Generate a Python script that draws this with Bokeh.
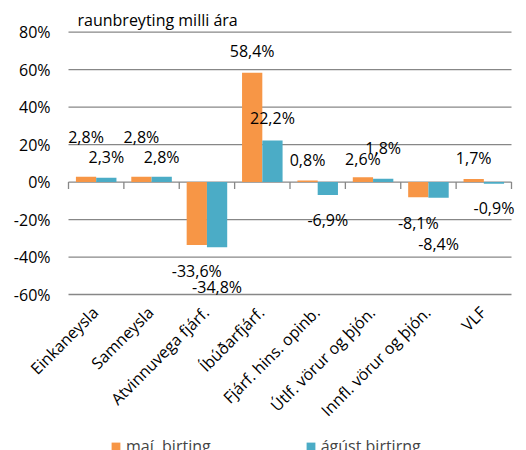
import math
from bokeh.plotting import figure
from bokeh.models import ColumnDataSource, Range1d, Legend, LegendItem
from bokeh.core.properties import value
from bokeh.embed import file_html
from bokeh.resources import INLINE

# ---- data ----
categories = ["Einkaneysla", "Samneysla", "Atvinnuvega fjárf.", "Íbúðarfjárf.",
              "Fjárf. hins. opinb.", "Útlf. vörur og þjón.", "Innfl. vörur og þjón.", "VLF"]
mai = [2.8, 2.8, -33.6, 58.4, 0.8, 2.6, -8.1, 1.7]
agust = [2.3, 2.8, -34.8, 22.2, -6.9, 1.8, -8.4, -0.9]
series_names = ["maí  birting", "ágúst birtirng"]
y_ticks = [-60, -40, -20, 0, 20, 40, 60, 80]
axis_note = "raunbreyting milli ára"

# ---- label placement (screen px, positive = up) ----
mai_label_dy = [40, 40, -26, 22, 21, 18, -26, 21]
agust_label_dy = [21, 20, -40, 22, -25, 31, -46, -24]

FONT = "Open Sans"
FS = "16px"
ORANGE = "#F79646"
CYAN = "#4BACC6"
GRID = "#878787"
Y_MIN, Y_MAX = y_ticks[0], y_ticks[-1]
N = len(categories)


def fmt(v):
    return f"{v:.1f}".replace(".", ",") + "%"


# category slots: category i occupies [i, i+1]
xc = [i + 0.5 for i in range(N)]
OFF = 0.183
W = 0.366

src = ColumnDataSource(dict(
    cat=categories, xc=xc,
    xm=[x - OFF for x in xc], xa=[x + OFF for x in xc],
    mai=mai, agust=agust,
    mai_lbl=[fmt(v) for v in mai], agust_lbl=[fmt(v) for v in agust],
    mai_dy=[-d for d in mai_label_dy], agust_dy=[-d for d in agust_label_dy],
    base=[Y_MIN] * N,
))
tick_src = ColumnDataSource(dict(
    y=y_ticks, x0=[0] * len(y_ticks), x1=[N] * len(y_ticks),
    lbl=[f"{t}%" for t in y_ticks],
))
bound_src = ColumnDataSource(dict(x=list(range(N + 1)), y=[0] * (N + 1)))

# one full-canvas frame: category area spans page x 68..511, 80% at y~32, -60% at y~294
PX_PER_CAT = 443 / N
PX_PER_PCT = 262.3 / (Y_MAX - Y_MIN)
p = figure(x_range=Range1d(-68 / PX_PER_CAT, N + 15 / PX_PER_CAT),
           y_range=Range1d(Y_MIN - 156 / PX_PER_PCT, Y_MAX + 31.7 / PX_PER_PCT),
           width=526, height=450, output_backend="svg", toolbar_location=None,
           min_border=0)
p.outline_line_color = None
p.background_fill_color = "white"
p.xaxis.visible = False
p.yaxis.visible = False
p.xgrid.visible = False
p.ygrid.visible = False

# horizontal grid lines across the category area
p.segment(x0="x0", x1="x1", y0="y", y1="y", line_color=GRID, line_width=1.3,
          source=tick_src)

r1 = p.vbar(x="xm", top="mai", bottom=0, width=W,
            fill_color=ORANGE, line_color=None, source=src)
r2 = p.vbar(x="xa", top="agust", bottom=0, width=W,
            fill_color=CYAN, line_color=None, source=src)

# tick marks at category boundaries on the zero line
p.ray(x="x", y="y", length=7, length_units="screen", angle=-math.pi / 2,
      line_color=GRID, line_width=1.3, source=bound_src)

# y tick labels
p.text(x="x0", y="y", text="lbl", x_offset=-18, text_align="right",
       text_baseline="middle", text_font=value(FONT), text_font_size=FS,
       text_color="black", source=tick_src)

# data labels
for xcol, col, lbl, dy in [("xm", "mai", "mai_lbl", "mai_dy"), ("xa", "agust", "agust_lbl", "agust_dy")]:
    p.text(x=xcol, y=col, text=lbl, y_offset=dy,
           text_align="center", text_baseline="middle", text_font=value(FONT),
           text_font_size=FS, text_color="black", source=src)

# category labels (rotated 45 degrees, below the -60% line)
p.text(x="xc", y="base", text="cat", angle=math.pi / 4, x_offset=-1, y_offset=15,
       text_align="right", text_baseline="middle", text_font=value(FONT),
       text_font_size=FS, text_color="black", source=src)

# axis note
p.text(x=[0], y=[Y_MAX], text=[axis_note], x_offset=9, y_offset=-1,
       text_baseline="bottom", text_align="left", text_font=value(FONT),
       text_font_size=FS, text_color="black")

legend = Legend(items=[LegendItem(label=series_names[0], renderers=[r1]),
                       LegendItem(label=series_names[1], renderers=[r2])],
                location=(110, -7), orientation="horizontal",
                border_line_color=None, background_fill_alpha=0,
                padding=0, margin=0, spacing=94, label_standoff=5,
                glyph_width=11, glyph_height=11,
                label_text_font=FONT, label_text_font_size=FS)
p.add_layout(legend, "center")

open("out.html", "w").write(file_html(p, INLINE))
